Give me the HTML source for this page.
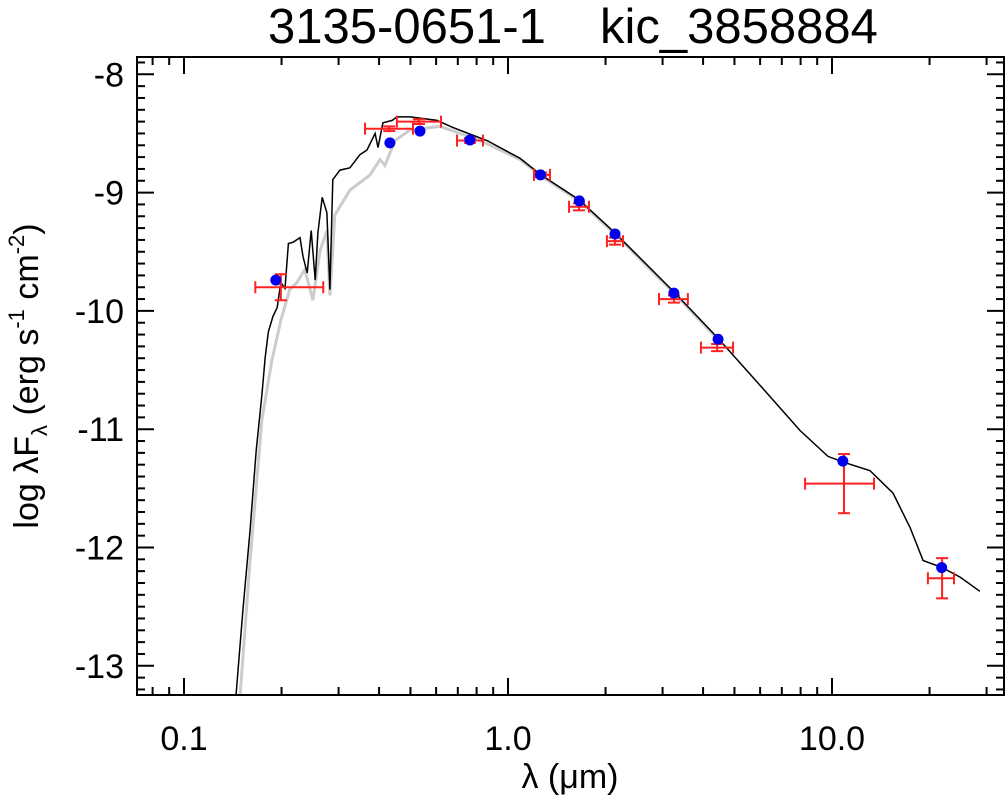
<!DOCTYPE html>
<html><head><meta charset="utf-8">
<style>
html,body{margin:0;padding:0;background:#fff;}
svg{display:block;font-family:"Liberation Sans",Arial,sans-serif;}
</style></head>
<body>
<svg id="chart" width="1006" height="801" viewBox="0 0 1006 801" xmlns="http://www.w3.org/2000/svg">
<text y="43" font-size="49"><tspan x="268">3135-0651-1</tspan><tspan x="600">kic_3858884</tspan></text>
<text x="570" y="788" font-size="34" text-anchor="middle">λ (μm)</text>
<text transform="translate(38,376) rotate(-90)" font-size="34" text-anchor="middle">log λF<tspan font-size="22" dy="9">λ</tspan><tspan dy="-9"> (erg s</tspan><tspan font-size="22" dy="-14">-1</tspan><tspan dy="14"> cm</tspan><tspan font-size="22" dy="-14">-2</tspan><tspan dy="14">)</tspan></text>
<g id="marks"></g>
</svg>
<script>
const yTicks=[-8,-9,-10,-11,-12,-13];
const yTickLabels=["-8","-9","-10","-11","-12","-13"];
const xTicks=[0.1,1,10];
const xTickLabels=["0.1","1.0","10.0"];
const modelLam=[0.1447,0.152,0.160,0.167,0.174,0.178,0.182,0.188,0.194,0.199,0.205,0.210,0.217,0.228,0.233,0.240,0.247,0.254,0.259,0.267,0.276,0.282,0.288,0.303,0.325,0.349,0.367,0.389,0.397,0.411,0.439,0.454,0.499,0.604,0.676,0.861,1.089,1.264,1.656,2.138,3.253,4.444,5.998,7.96,9.72,10.89,13.10,15.43,17.41,19.10,21.87,24.85,28.6];
const modelFlux=[-13.25,-12.53,-11.85,-11.18,-10.71,-10.40,-10.18,-10.05,-9.97,-9.76,-9.81,-9.43,-9.42,-9.38,-9.54,-9.68,-9.32,-9.74,-9.34,-9.04,-9.17,-9.82,-8.89,-8.81,-8.79,-8.68,-8.64,-8.50,-8.62,-8.41,-8.39,-8.36,-8.36,-8.39,-8.45,-8.56,-8.71,-8.85,-9.06,-9.34,-9.84,-10.23,-10.63,-11.01,-11.23,-11.28,-11.35,-11.54,-11.83,-12.11,-12.17,-12.25,-12.37];
const greyLam=[0.149,0.160,0.174,0.187,0.199,0.212,0.223,0.236,0.250,0.263,0.276,0.282,0.292,0.325,0.375,0.403,0.417,0.448,0.499,0.617,0.820,1.089,1.264,1.656,2.138,3.253,4.444];
const greyFlux=[-13.25,-12.11,-10.92,-10.41,-10.08,-9.82,-9.76,-9.65,-9.91,-9.49,-9.32,-9.87,-9.19,-8.98,-8.85,-8.72,-8.77,-8.56,-8.47,-8.44,-8.56,-8.72,-8.86,-9.07,-9.35,-9.85,-10.24];
const ptLam=[0.192,0.432,0.535,0.763,1.26,1.66,2.14,3.25,4.45,10.8,21.8];
const ptFlux=[-9.74,-8.58,-8.48,-8.555,-8.85,-9.07,-9.35,-9.85,-10.24,-11.27,-12.17];
const obsLam=[0.199,0.430,0.531,0.763,1.264,1.656,2.138,3.253,4.42,10.89,21.87];
const obsLamLo=[0.166,0.362,0.454,0.696,1.203,1.543,2.02,2.924,3.94,8.26,19.77];
const obsLamHi=[0.269,0.509,0.621,0.837,1.348,1.778,2.265,3.59,4.95,13.48,23.8];
const obsFlux=[-9.80,-8.46,-8.40,-8.56,-8.85,-9.12,-9.41,-9.90,-10.31,-11.46,-12.26];
const obsFluxErr=[0.11,0.02,0.02,0.02,0.02,0.03,0.03,0.03,0.03,0.25,0.17];

const L=137,R=1004,T=57,B=695;
const X=l=>508+324*Math.log10(l);
const Y=f=>74.3+118.3*(-8-f);
const NS="http://www.w3.org/2000/svg";
const g=document.getElementById('marks');
function mk(tag,attrs){const e=document.createElementNS(NS,tag);for(const k in attrs)e.setAttribute(k,attrs[k]);g.appendChild(e);return e;}
function ln(x1,y1,x2,y2,st,w){return mk('line',{x1,y1,x2,y2,stroke:st,'stroke-width':w});}

const clip=document.createElementNS(NS,'clipPath');clip.setAttribute('id','pc');
const cr=document.createElementNS(NS,'rect');cr.setAttribute('x',L);cr.setAttribute('y',T);cr.setAttribute('width',R-L);cr.setAttribute('height',B-T);
clip.appendChild(cr);document.getElementById('chart').appendChild(clip);

let gp=greyLam.map((l,i)=>X(l).toFixed(1)+','+Y(greyFlux[i]).toFixed(1)).join(' ');
let e=mk('polyline',{points:gp,fill:'none',stroke:'#cccccc','stroke-width':3,'clip-path':'url(#pc)'});


let bp=modelLam.map((l,i)=>X(l).toFixed(1)+','+Y(modelFlux[i]).toFixed(1)).join(' ');
e=mk('polyline',{points:bp,fill:'none',stroke:'#000','stroke-width':1.5,'clip-path':'url(#pc)'});



obsLam.forEach((l,i)=>{
  const cx=X(l),cy=Y(obsFlux[i]),x1=X(obsLamLo[i]),x2=X(obsLamHi[i]);
  const y1=Y(obsFlux[i]+obsFluxErr[i]),y2=Y(obsFlux[i]-obsFluxErr[i]);
  const gg=document.createElementNS(NS,'g');
  
  
  const parts=[[x1,cy,x2,cy],[x1,cy-6,x1,cy+6],[x2,cy-6,x2,cy+6],[cx,y1,cx,y2],[cx-6,y1,cx+6,y1],[cx-6,y2,cx+6,y2]];
  parts.forEach(p=>{const q=document.createElementNS(NS,'line');q.setAttribute('x1',p[0]);q.setAttribute('y1',p[1]);q.setAttribute('x2',p[2]);q.setAttribute('y2',p[3]);q.setAttribute('stroke','#ff2020');q.setAttribute('stroke-width',2);gg.appendChild(q);});
  g.appendChild(gg);
});
ptLam.forEach((l,i)=>{
  const c=mk('circle',{cx:X(l),cy:Y(ptFlux[i]),r:5.5,fill:'#0000ee'});
  
  
});

const fr=mk('rect',{x:L,y:T,width:R-L,height:B-T,fill:'none',stroke:'#000','stroke-width':2});



for(let v=-13.2;v<=-7.86;v+=0.1){
  const vv=Math.round(v*10)/10;const y=Y(vv);
  if(y<T||y>B)continue;
  const major=Math.abs(vv-Math.round(vv))<1e-6;const len=major?17:8;
  ln(L,y,L+len,y,'#000',2);ln(R,y,R-len,y,'#000',2);
}
yTicks.forEach((v,i)=>{
  const t=mk('text',{x:124,y:Y(v)+12,'font-size':34,'text-anchor':'end'});t.textContent=yTickLabels[i];
  
  
});
[0.01,0.1,1,10].forEach(d=>{for(let k=1;k<10;k++){const l=d*k;const x=X(l);if(x<L||x>R)continue;const len=k===1?17:8;ln(x,B,x,B-len,'#000',2);ln(x,T,x,T+len,'#000',2);}});
xTicks.forEach((v,i)=>{
  const t=mk('text',{x:X(v),y:750,'font-size':34,'text-anchor':'middle'});t.textContent=xTickLabels[i];
  
  
});
</script>
</body></html>
